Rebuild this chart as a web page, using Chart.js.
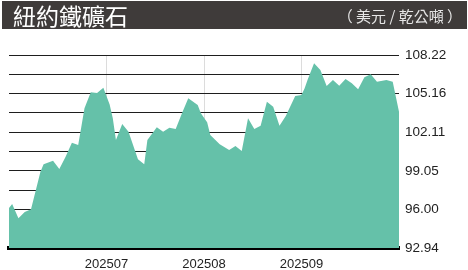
<!DOCTYPE html>
<html lang="zh-Hant">
<head>
  <meta charset="UTF-8">
  <title>紐約鐵礦石</title>
  <script src="https://cdn.jsdelivr.net/npm/chart.js"></script>
  <style>
    html, body { margin: 0; padding: 0; background: #fff; }
    .wrap { position: relative; width: 468px; height: 270px; overflow: hidden; }
    .bar {
      position: absolute; left: 2px; top: 1px; width: 465px; height: 28px;
      background: #3f3b3a; color: #fff; z-index: 2;
      font-family: "Noto Sans CJK TC", "Noto Sans", sans-serif;
    }
    .bar .title { position: absolute; left: 11px; top: 0; font-size: 23px; line-height: 28px; font-weight: 400; }
    .bar .unit { position: absolute; right: 5px; top: 0; font-size: 15px; line-height: 29px; color: #e6e6e6; }
    .chart { position: absolute; left: 0; top: 0; width: 468px; height: 270px; }
  </style>
</head>
<body>
  <div class="wrap">
    <div class="bar">
      <span class="title">紐約鐵礦石</span>
      <span class="unit">（ 美元 / 乾公噸 ）</span>
    </div>
    <div class="chart"><canvas id="oreChart"></canvas></div>
  </div>

  <script>
  // price readings (USD / dry metric ton)
  const dates = [
    '2025-05-31', '2025-06-01', '2025-06-03', '2025-06-05', '2025-06-07', '2025-06-10',
    '2025-06-11', '2025-06-14', '2025-06-16', '2025-06-18', '2025-06-20', '2025-06-22',
    '2025-06-23', '2025-06-24', '2025-06-26', '2025-06-28', '2025-06-30', '2025-07-02',
    '2025-07-03', '2025-07-04', '2025-07-06', '2025-07-08', '2025-07-11', '2025-07-13',
    '2025-07-14', '2025-07-17', '2025-07-19', '2025-07-21', '2025-07-23', '2025-07-25',
    '2025-07-27', '2025-07-30', '2025-07-31', '2025-08-02', '2025-08-03', '2025-08-06',
    '2025-08-09', '2025-08-11', '2025-08-13', '2025-08-15', '2025-08-17', '2025-08-19',
    '2025-08-21', '2025-08-23', '2025-08-25', '2025-08-27', '2025-08-30', '2025-09-01',
    '2025-09-02', '2025-09-03', '2025-09-05', '2025-09-07', '2025-09-09', '2025-09-11',
    '2025-09-13', '2025-09-15', '2025-09-17', '2025-09-19', '2025-09-21', '2025-09-23',
    '2025-09-25', '2025-09-28', '2025-09-30', '2025-10-01', '2025-10-02'
  ];
  const prices = [
    96.10, 96.42, 95.29, 95.79, 96.00, 98.98,
    99.57, 99.85, 99.20, 100.17, 101.28, 101.10,
    102.54, 104.00, 105.27, 105.21, 105.62, 104.30,
    103.21, 101.49, 102.76, 102.15, 99.96, 99.57,
    101.49, 102.50, 102.15, 102.47, 102.36, 103.60,
    104.79, 104.26, 103.60, 102.90, 101.89, 101.15,
    100.70, 101.02, 100.62, 103.21, 102.36, 102.62,
    104.52, 104.13, 102.62, 103.39, 104.97, 105.05,
    105.58, 106.30, 107.56, 107.03, 105.77, 106.24,
    105.79, 106.32, 105.98, 105.50, 106.45, 106.69,
    106.11, 106.24, 106.11, 104.92, 103.73
  ];

  // axis ticks
  const monthStarts = ['2025-07-01', '2025-08-01', '2025-09-01'];
  const monthLabels = ['202507', '202508', '202509'];
  const yLabels = [92.94, 96.00, 99.05, 102.11, 105.16, 108.22];

  const base = Date.UTC(2025, 5, 1);
  const toDay = s => (Date.parse(s) - base) / 86400000;

  const points = dates.map((d, i) => ({ x: toDay(d), y: prices[i] }));
  const monthDays = monthStarts.map(toDay);

  // gridlines at every label plus halfway between them
  const yTicks = [];
  yLabels.forEach((v, i) => {
    yTicks.push(v);
    if (i < yLabels.length - 1) yTicks.push((v + yLabels[i + 1]) / 2);
  });

  new Chart(document.getElementById('oreChart'), {
    type: 'line',
    data: {
      datasets: [{
        data: points,
        fill: 'start',
        backgroundColor: '#65c1a9',
        borderWidth: 0,
        pointRadius: 0,
        tension: 0
      }]
    },
    options: {
      responsive: true,
      maintainAspectRatio: false,
      animation: false,
      layout: { padding: { top: 55, left: 9, right: 0, bottom: 0 } },
      plugins: { legend: { display: false }, tooltip: { enabled: false } },
      scales: {
        x: {
          type: 'linear',
          z: 1,
          min: toDay(dates[0]),
          max: toDay(dates[dates.length - 1]),
          afterBuildTicks: s => { s.ticks = monthDays.map(v => ({ value: v })); },
          afterFit: s => { s.height = 22; },
          grid: { color: 'rgba(205,205,205,0.7)', lineWidth: 1, drawTicks: false },
          border: { display: true, color: '#000', width: 4 },
          ticks: {
            padding: 9,
            color: '#222',
            font: { family: 'Liberation Sans', size: 13 },
            callback: v => monthLabels[monthDays.indexOf(v)]
          }
        },
        y: {
          position: 'right',
          z: 1,
          min: yLabels[0],
          max: yLabels[yLabels.length - 1],
          afterBuildTicks: s => { s.ticks = yTicks.map(v => ({ value: v })); },
          afterFit: s => { s.width = 69; },
          grid: { color: '#1e1e1e', lineWidth: 1, drawTicks: false },
          border: { display: false },
          ticks: {
            padding: 6,
            color: '#222',
            font: { family: 'Liberation Sans', size: 13.5 },
            callback: v => yLabels.includes(v) ? v.toFixed(2) : ''
          }
        }
      }
    }
  });
  </script>
</body>
</html>
